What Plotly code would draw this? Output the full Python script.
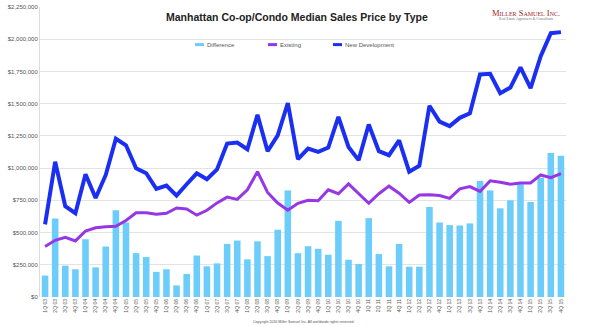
import plotly.graph_objects as go

# Quarter labels 1Q 03 ... 4Q 15
quarters = [f"{q}Q {y:02d}" for y in range(3, 16) for q in range(1, 5)]

new_development = [
    563000, 1049000, 704000, 650000, 952000, 768000, 947000, 1228000, 1177000, 998000,
    960000, 839000, 865000, 786000, 875000, 960000, 914000, 990000, 1190000, 1198000,
    1146000, 1413000, 1131000, 1254000, 1505000, 1070000, 1152000, 1126000, 1159000, 1397000,
    1164000, 1062000, 1338000, 1131000, 1100000, 1215000, 972000, 1018000, 1484000, 1361000,
    1326000, 1390000, 1425000, 1727000, 1732000, 1581000, 1625000, 1782000, 1620000, 1868000,
    2047000, 2055000,
]

existing = [
    392000, 440000, 463000, 435000, 512000, 537000, 545000, 548000, 594000, 653000,
    653000, 642000, 650000, 691000, 683000, 635000, 673000, 730000, 775000, 757000,
    832000, 972000, 811000, 729000, 673000, 727000, 750000, 747000, 832000, 801000,
    878000, 801000, 727000, 801000, 860000, 805000, 734000, 791000, 793000, 788000,
    765000, 839000, 857000, 819000, 901000, 891000, 875000, 885000, 885000, 947000,
    926000, 957000,
]

difference = [
    166000, 609000, 243000, 215000, 448000, 230000, 392000, 673000, 578000, 340000,
    310000, 195000, 215000, 90000, 179000, 322000, 238000, 261000, 412000, 438000,
    292000, 432000, 317000, 522000, 827000, 340000, 394000, 374000, 328000, 591000,
    289000, 256000, 612000, 333000, 238000, 412000, 235000, 235000, 699000, 578000,
    558000, 555000, 571000, 901000, 827000, 688000, 750000, 875000, 737000, 926000,
    1118000, 1095000,
]

C_DIFF = "#6ccdfb"
C_EXIST = "#9637e6"
C_NEW = "#1b2ff2"
FONT = "Liberation Sans, Arial, sans-serif"

W, H = 600, 326
L, R, T, B = 40, 34, 4, 29
PW, PH = W - L - R, H - T - B


def px(x):
    return (x - L) / PW


def py(y):
    return (H - B - y) / PH


fig = go.Figure()
fig.add_trace(go.Bar(x=quarters, y=difference, name="Difference",
                     marker=dict(color=C_DIFF, line=dict(width=0)), showlegend=False))
fig.add_trace(go.Scatter(x=quarters, y=existing, name="Existing", mode="lines",
                         line=dict(color=C_EXIST, width=3), showlegend=False))
fig.add_trace(go.Scatter(x=quarters, y=new_development, name="New Development", mode="lines",
                         line=dict(color=C_NEW, width=4), showlegend=False))

yax = dict(range=[0, 2250000], dtick=250000, tickprefix="$", tickformat=",d",
           showgrid=True, gridcolor="#e3e3e3", gridwidth=1, zeroline=False,
           showline=True, linecolor="#dcdcdc", linewidth=1,
           tickfont=dict(family=FONT, size=6, color="#555"), ticks="", fixedrange=True)

fig.update_layout(
    width=W, height=H, autosize=False,
    margin=dict(l=L, r=R, t=T, b=B, pad=0),
    paper_bgcolor="white", plot_bgcolor="white",
    bargap=0.35,
    xaxis=dict(type="category", tickangle=-90, showgrid=False, showline=False,
               tickfont=dict(family=FONT, size=5, color="#555"), ticks="", ticklen=0),
    yaxis=yax,
    yaxis2=dict(yax, overlaying="y", side="right", showgrid=False),
)

# Title and credit text
fig.add_annotation(text="<b>Manhattan Co-op/Condo Median Sales Price by Type</b>",
                   xref="paper", yref="paper", x=px(297), y=py(14), showarrow=False,
                   xanchor="center", yanchor="middle",
                   font=dict(family=FONT, size=10.5, color="#222"))
fig.add_annotation(text="<span style='font-variant:small-caps'>Miller Samuel Inc.</span>",
                   xref="paper", yref="paper", x=px(526), y=py(10), showarrow=False,
                   xanchor="center", yanchor="middle",
                   font=dict(family="Liberation Serif, serif", size=8.5, color="#9b2a2a"))
fig.add_annotation(text="Real Estate Appraisers & Consultants",
                   xref="paper", yref="paper", x=px(526), y=py(16.5), showarrow=False,
                   xanchor="center", yanchor="middle",
                   font=dict(family="Liberation Serif, serif", size=3.6, color="#777"))
fig.add_annotation(text="Copyright 2016 Miller Samuel Inc. All worldwide rights reserved.",
                   xref="paper", yref="paper", x=px(303), y=py(322), showarrow=False,
                   xanchor="center", yanchor="middle",
                   font=dict(family=FONT, size=3.6, color="#555"))

# Legend row
legend_items = [("Difference", C_DIFF, 195), ("Existing", C_EXIST, 268),
                ("New Development", C_NEW, 333)]
for label, color, x0 in legend_items:
    fig.add_shape(type="line", xref="paper", yref="paper",
                  x0=px(x0), x1=px(x0 + 9), y0=py(42), y1=py(42),
                  line=dict(color=color, width=3))
    fig.add_annotation(text=label, xref="paper", yref="paper",
                       x=px(x0 + 9.5), y=py(42), showarrow=False,
                       xanchor="left", yanchor="middle",
                       font=dict(family=FONT, size=6, color="#555"))

fig.write_html("out.html")
